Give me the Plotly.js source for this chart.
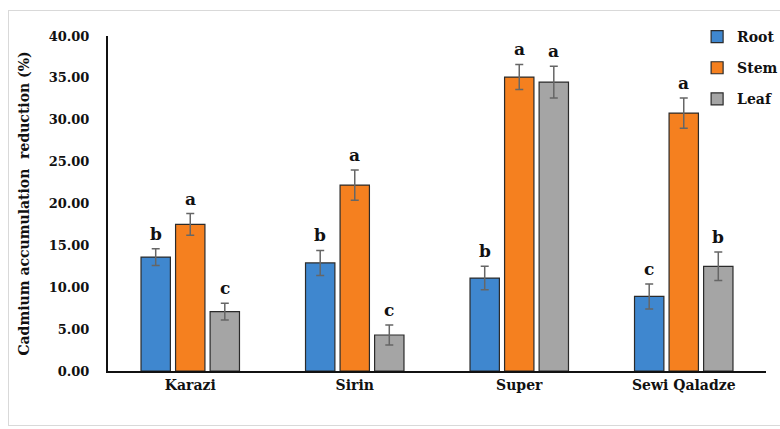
<!DOCTYPE html>
<html>
<head>
<meta charset="utf-8">
<script src="https://cdn.plot.ly/plotly-3.0.1.min.js"></script>
<style>
html,body{margin:0;padding:0;background:#fff;}
#wrap{position:relative;width:780px;height:429px;}
#chart{position:absolute;left:0;top:0;width:780px;height:429px;}
#frame{position:absolute;left:8px;top:10px;width:780px;height:416px;border:1px solid #d9d9d9;pointer-events:none;box-sizing:border-box;}
</style>
</head>
<body>
<div id="wrap"><div id="chart"></div><div id="frame"></div></div>
<script>
const categories = ["Karazi", "Sirin", "Super", "Sewi Qaladze"];
const rootValues = [13.6, 12.9, 11.1, 8.9];
const rootErrors = [1.0, 1.5, 1.4, 1.5];
const rootLetters = ["b", "b", "b", "c"];
const stemValues = [17.5, 22.2, 35.1, 30.8];
const stemErrors = [1.3, 1.8, 1.5, 1.8];
const stemLetters = ["a", "a", "a", "a"];
const leafValues = [7.1, 4.3, 34.5, 12.5];
const leafErrors = [1.0, 1.2, 1.9, 1.7];
const leafLetters = ["c", "c", "a", "b"];
const yTickValues = [0, 5, 10, 15, 20, 25, 30, 35, 40];
const yTickLabels = ["0.00", "5.00", "10.00", "15.00", "20.00", "25.00", "30.00", "35.00", "40.00"];

const FONT = "DejaVu Serif";
const series = [
  {name: "Root", v: rootValues, e: rootErrors, l: rootLetters, color: "#3F87CF"},
  {name: "Stem", v: stemValues, e: stemErrors, l: stemLetters, color: "#F5801F"},
  {name: "Leaf", v: leafValues, e: leafErrors, l: leafLetters, color: "#A5A5A5"}
];

const margin = {l: 108, r: 14, t: 36, b: 58, autoexpand: false};
const bargap = 0.37, bargroupgap = 0.15;
const plotW = 780 - margin.l - margin.r;
const slot = plotW / categories.length * (1 - bargap) / series.length;

const traces = series.map((s, i) => ({
  type: "bar", name: s.name, x: categories, y: s.v,
  legendgroup: s.name,
  marker: {color: s.color, line: {color: "#2b2b2b", width: 1.2}},
  error_y: {type: "data", array: s.e, visible: true, color: "#666", thickness: 1.5, width: 4}
}));

const annotations = [];
series.forEach((s, i) => {
  categories.forEach((c, j) => {
    annotations.push({
      x: c, y: s.v[j] + s.e[j], xref: "x", yref: "y",
      text: s.l[j], showarrow: false, yanchor: "bottom",
      xshift: (i - 1) * slot, yshift: 3,
      font: {family: FONT, size: 17, color: "#111", weight: "bold"}
    });
  });
});

const layout = {
  width: 780, height: 429, margin: margin,
  paper_bgcolor: "rgba(0,0,0,0)", plot_bgcolor: "rgba(0,0,0,0)",
  barmode: "group", bargap: bargap, bargroupgap: bargroupgap,
  showlegend: true,
  legend: {x: 1.026, xanchor: "right", y: 1.045, yanchor: "top", traceorder: "grouped", tracegroupgap: 10,
    font: {family: FONT, size: 14, color: "#111", weight: "bold"}, bgcolor: "rgba(0,0,0,0)", itemwidth: 30},
  xaxis: {type: "category", showline: true, linecolor: "#111", linewidth: 2, ticks: "",
    tickfont: {family: FONT, size: 14, color: "#111", weight: "bold"}, fixedrange: true, automargin: false},
  yaxis: {range: [0, 40], tickvals: yTickValues, ticktext: yTickLabels, showgrid: false, zeroline: false,
    showline: true, linecolor: "#111", linewidth: 2, ticks: "", ticklabelstandoff: 14, automargin: false,
    tickfont: {family: FONT, size: 13, color: "#111", weight: "bold"},
    title: {text: "Cadmium accumulation  reduction (%)", standoff: 16,
      font: {family: FONT, size: 14, color: "#111", weight: "bold"}}},
  annotations: annotations,
  font: {family: FONT}
};

Plotly.newPlot("chart", traces, layout, {displayModeBar: false, staticPlot: true});
</script>
</body>
</html>
